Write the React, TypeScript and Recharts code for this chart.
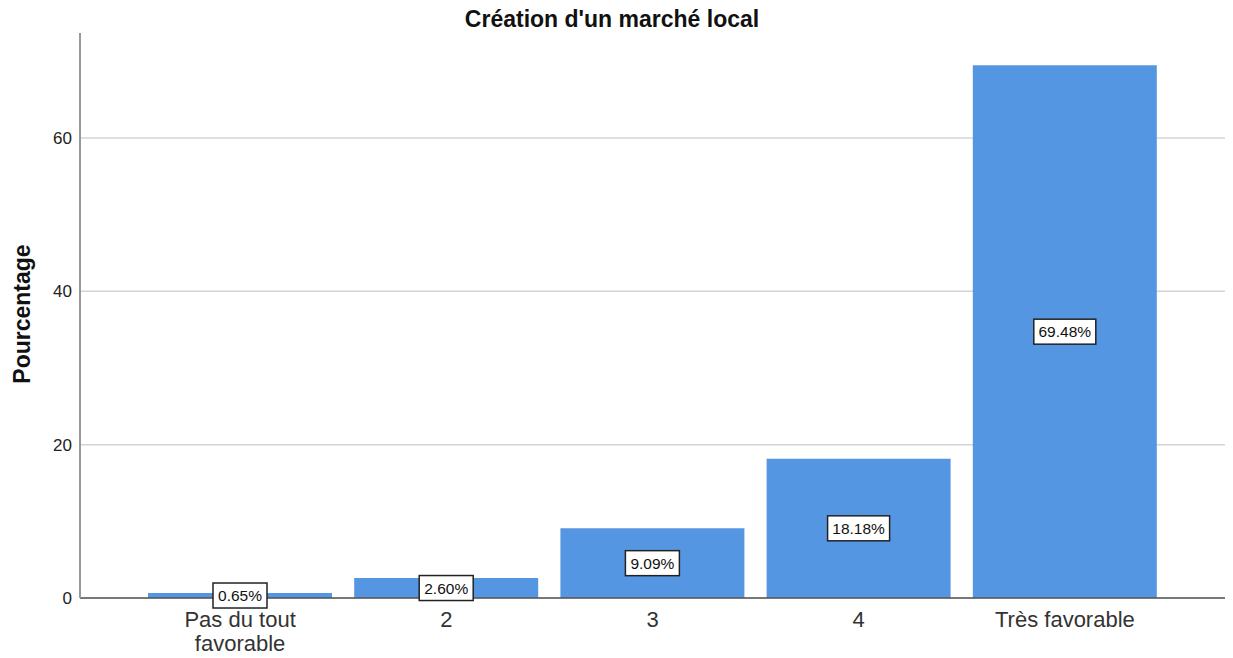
import React from 'react';
import { BarChart, Bar, XAxis, YAxis, CartesianGrid, LabelList } from 'recharts';

const categories = ['Pas du tout favorable', '2', '3', '4', 'Très favorable'];
const categoryLines = [['Pas du tout', 'favorable'], ['2'], ['3'], ['4'], ['Très favorable']];
const percentages = [0.65, 2.6, 9.09, 18.18, 69.48];
const yTicks = [0, 20, 40, 60];

const FONT = '"Liberation Sans", Arial, sans-serif';

const data = categories.map((name, i) => ({ name, pct: percentages[i] }));

const XTick = (props: any) => {
  const { x, y, payload } = props;
  const idx = categories.indexOf(payload.value);
  const lines = categoryLines[idx] || [payload.value];
  return (
    <text x={x} y={y} textAnchor="middle" fill="#333" fontSize={22} fontFamily={FONT}>
      {lines.map((l, i) => (
        <tspan key={i} x={x} dy={i === 0 ? 21 : 24}>
          {l}
        </tspan>
      ))}
    </text>
  );
};

const BoxLabel = (props: any) => {
  const { x, y, width, height, value } = props;
  const text = Number(value).toFixed(2) + '%';
  const cx = x + width / 2;
  const cy = y + height / 2;
  const w = text.length * 8 + 14;
  const h = 25;
  return (
    <g>
      <rect x={cx - w / 2} y={cy - h / 2} width={w} height={h} fill="#fff" stroke="#222" strokeWidth={1.5} />
      <text x={cx} y={cy + 5.5} textAnchor="middle" fontSize={15.5} fill="#111" fontFamily={FONT}>
        {text}
      </text>
    </g>
  );
};

export default function App() {
  return (
    <div style={{ position: 'absolute', left: 0, top: 0, width: 1233, height: 658, background: '#fff', fontFamily: FONT }}>
      <div
        style={{
          position: 'absolute',
          left: 612,
          top: 6,
          transform: 'translateX(-50%)',
          fontSize: 23,
          fontWeight: 'bold',
          color: '#111',
          whiteSpace: 'nowrap',
        }}
      >
        Création d'un marché local
      </div>
      <div
        style={{
          position: 'absolute',
          left: 22,
          top: 314,
          transform: 'translate(-50%, -50%) rotate(-90deg)',
          fontSize: 23,
          fontWeight: 'bold',
          color: '#111',
          whiteSpace: 'nowrap',
        }}
      >
        Pourcentage
      </div>
      <BarChart
        width={1233}
        height={658}
        data={data}
        margin={{ top: 33, right: 8, bottom: 0, left: 0 }}
        barCategoryGap={11}
        style={{ position: 'absolute', left: 0, top: 0 }}
      >
        <CartesianGrid vertical={false} syncWithTicks stroke="#d4d4d4" strokeWidth={1.5} />
        <XAxis
          dataKey="name"
          height={60}
          padding={{ left: 57, right: 57 }}
          tickLine={false}
          axisLine={{ stroke: '#555', strokeWidth: 1.5 }}
          interval={0}
          tick={<XTick />}
        />
        <YAxis
          width={80}
          domain={[0, 73.7]}
          ticks={yTicks}
          tickLine={false}
          axisLine={{ stroke: '#999', strokeWidth: 2 }}
          tick={{ fontSize: 17, fill: '#222', fontFamily: FONT }}
        />
        <Bar dataKey="pct" fill="#5596e3" isAnimationActive={false}>
          <LabelList dataKey="pct" content={<BoxLabel />} />
        </Bar>
      </BarChart>
    </div>
  );
}
